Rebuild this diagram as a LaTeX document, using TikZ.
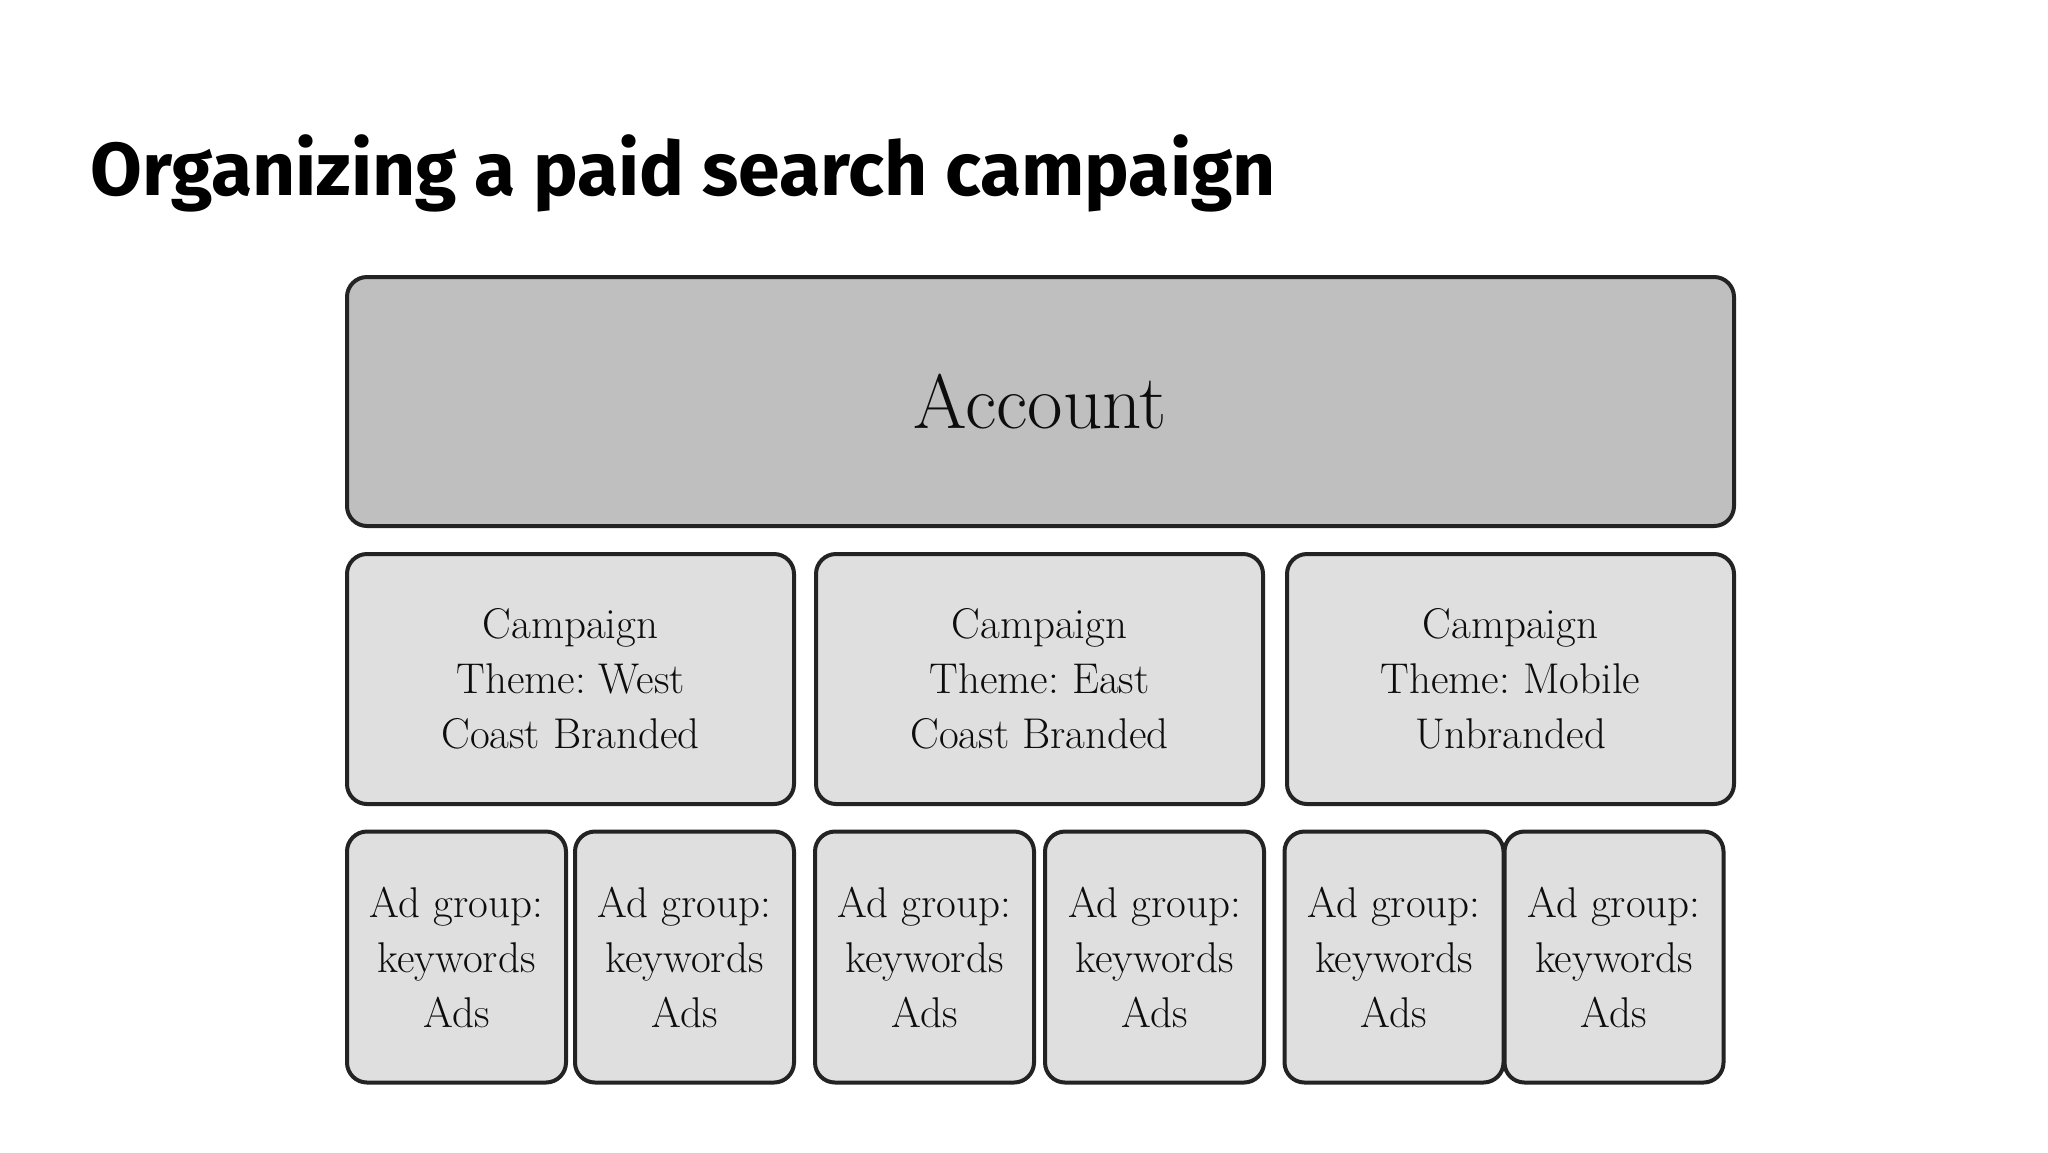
\documentclass[tikz,border=0pt]{standalone}
\usepackage{fontspec}
\newfontfamily\titlefont{Fira Sans}
\definecolor{accountgray}{HTML}{BFBFBF}
\definecolor{boxgray}{HTML}{DFDFDF}
\definecolor{edgegray}{HTML}{232323}
\frenchspacing
\begin{document}
\begin{tikzpicture}
        [x=0.5pt, y=-0.5pt,
        block/.style={rectangle, rounded corners=10pt, draw=edgegray, line width=2pt, align=center, text=black!95, inner sep=0pt},
        account/.style={block, fill=accountgray, minimum width=693.5pt, minimum height=124.5pt, font=\fontsize{38.5}{44}\selectfont},
        campaign/.style={block, fill=boxgray, minimum width=223.5pt, minimum height=125pt, font=\fontsize{21.5}{27.5}\selectfont},
        adgroup/.style={block, fill=boxgray, minimum width=109.5pt, minimum height=125.5pt, font=\fontsize{21.5}{27.5}\selectfont},
        ]
        \path[use as bounding box, fill=white] (0,0) rectangle (2048,1152);
        \node[anchor=base west, inner sep=0pt, font=\titlefont\bfseries\fontsize{37.5}{44}\selectfont] (title) at (90,195) {Organizing a paid search campaign};
        % account
        \node[account] (account) at (1040.5,401.5) {Account};
        % campaigns
        \node[campaign] (west) at (570.5,679) {Campaign\\Theme: West\\Coast Branded};
        \node[campaign] (east) at (1039.5,679) {Campaign\\Theme: East\\Coast Branded};
        \node[campaign] (mobile) at (1510.5,679) {Campaign\\Theme: Mobile\\Unbranded};
        % ad groups
        \node[adgroup] (west1) at (456.5,957) {Ad group:\\keywords\\Ads};
        \node[adgroup] (west2) at (684.5,957) {Ad group:\\keywords\\Ads};
        \node[adgroup] (east1) at (924.5,957) {Ad group:\\keywords\\Ads};
        \node[adgroup] (east2) at (1154.5,957) {Ad group:\\keywords\\Ads};
        \node[adgroup] (mobile1) at (1394,957) {Ad group:\\keywords\\Ads};
        \node[adgroup] (mobile2) at (1614,957) {Ad group:\\keywords\\Ads};
\end{tikzpicture}
\end{document}
